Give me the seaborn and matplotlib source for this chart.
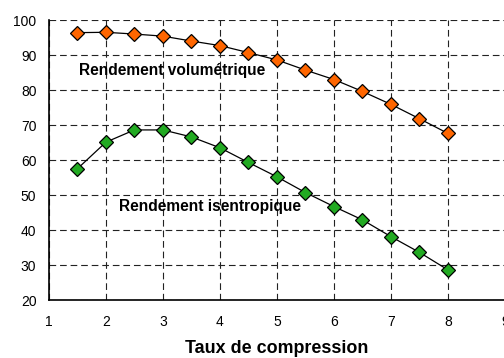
import matplotlib
matplotlib.use("Agg")
import matplotlib.pyplot as plt
import seaborn as sns
import pandas as pd

# Compression ratio and efficiencies (%)
taux = [1.5, 2, 2.5, 3, 3.5, 4, 4.5, 5, 5.5, 6, 6.5, 7, 7.5, 8]
rend_vol = [96.4, 96.5, 96.0, 95.4, 94.0, 92.7, 90.7, 88.6, 85.7, 83.0, 79.6, 75.9, 71.8, 67.6]
rend_isen = [57.5, 65.1, 68.6, 68.6, 66.6, 63.5, 59.3, 55.2, 50.7, 46.7, 42.9, 38.1, 33.6, 28.6]

x_ticks = [1, 2, 3, 4, 5, 6, 7, 8, 9]
y_ticks = [20, 30, 40, 50, 60, 70, 80, 90, 100]

sns.set_style("white")
plt.rcParams["font.family"] = ["Liberation Sans", "DejaVu Sans"]
plt.rcParams["text.color"] = "black"
plt.rcParams["axes.labelcolor"] = "black"
plt.rcParams["xtick.color"] = "black"
plt.rcParams["ytick.color"] = "black"

df = pd.DataFrame({"taux": taux, "vol": rend_vol, "isen": rend_isen})

fig = plt.figure(figsize=(5.04, 3.58), dpi=100)
ax = fig.add_axes([0.097, 0.162, 0.905, 0.782])

for col, face in [("vol", "#FF6600"), ("isen", "#22AA22")]:
    sns.lineplot(data=df, x="taux", y=col, ax=ax, color="black", linewidth=0.9,
                 marker="D", markersize=7.5, markerfacecolor=face,
                 markeredgecolor="black", markeredgewidth=0.9, zorder=3)

ax.set_xlim(1, 9)
ax.set_ylim(20, 100)
ax.set_xticks(x_ticks)
ax.set_yticks(y_ticks)
ax.tick_params(axis="both", labelsize=10, direction="out", length=4, width=1,
               color="black", labelcolor="black", pad=5)
ax.tick_params(axis="x", pad=7)

ax.grid(True, which="major", color="#222222", linestyle=(0, (6, 3.5)), linewidth=0.8)
ax.set_axisbelow(True)

for side in ["top", "right"]:
    ax.spines[side].set_visible(False)
for side in ["left", "bottom"]:
    ax.spines[side].set_color("black")
    ax.spines[side].set_linewidth(1.2)

ax.set_ylabel("")
ax.set_xlabel("Taux de compression", fontsize=12.9, fontweight="bold", labelpad=8,
              color="black")

ax.text(1.53, 85.7, "Rendement volumétrique", fontsize=11.2, fontweight="bold",
        ha="left", va="center", color="black")
ax.text(2.23, 46.7, "Rendement isentropique", fontsize=11.2, fontweight="bold",
        ha="left", va="center", color="black")

fig.savefig("out.png", dpi=100)
